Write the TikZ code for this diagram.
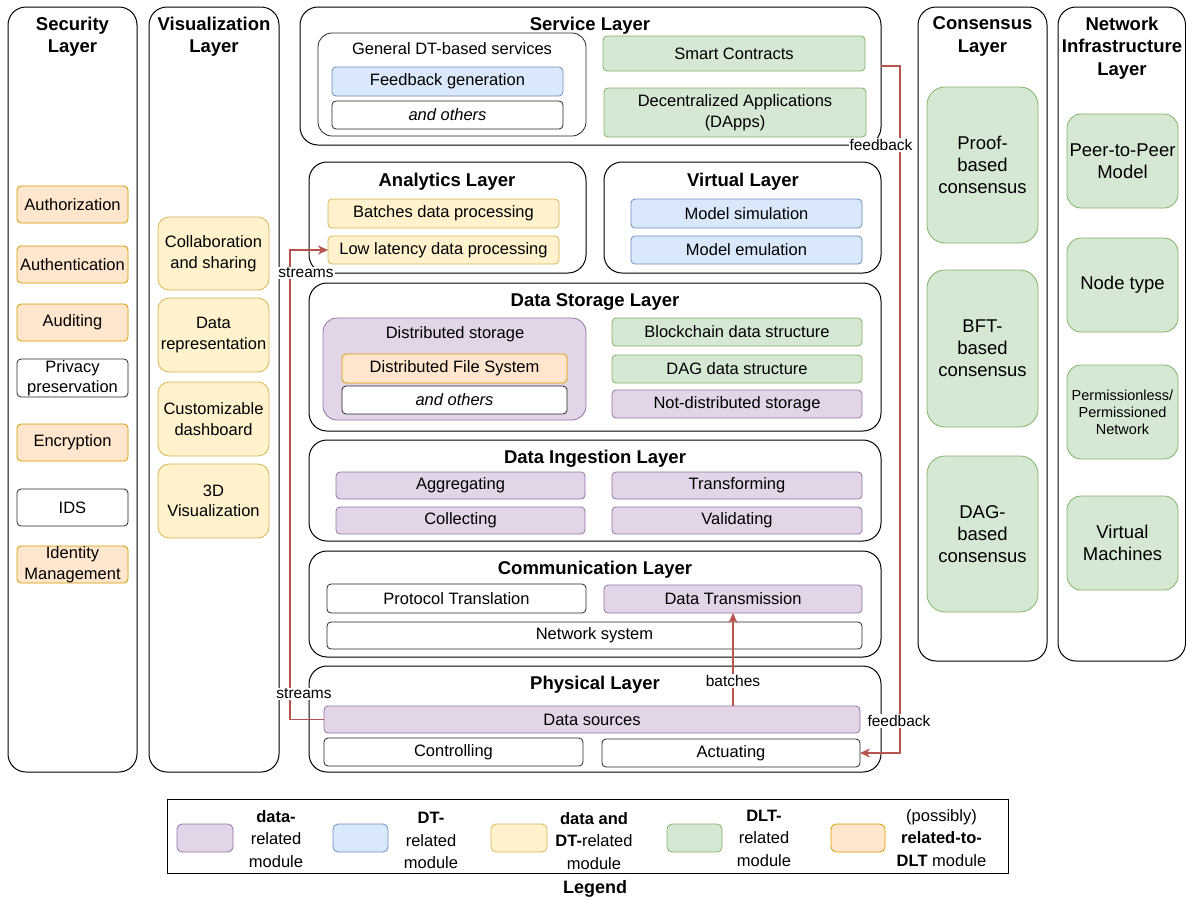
\documentclass[tikz,border=0pt]{standalone}
\usepackage{fontspec}
\setmainfont{Liberation Sans}
\usetikzlibrary{arrows.meta}
\definecolor{pFill}{HTML}{E1D5E7}\definecolor{pDraw}{HTML}{9673A6}
\definecolor{bFill}{HTML}{DAE8FC}\definecolor{bDraw}{HTML}{6C8EBF}
\definecolor{yFill}{HTML}{FFF2CC}\definecolor{yDraw}{HTML}{D6B656}
\definecolor{gFill}{HTML}{D5E8D4}\definecolor{gDraw}{HTML}{82B366}
\definecolor{oFill}{HTML}{FFE6CC}\definecolor{oDraw}{HTML}{D79B00}
\definecolor{arrRed}{HTML}{B85450}
\newcommand{\fsN}{\fontsize{16.5}{20.5}\selectfont}
\newcommand{\fsT}{\fontsize{18.5}{22.5}\selectfont\bfseries}
\newcommand{\fsB}{\fontsize{18.5}{22}\selectfont}
\newcommand{\bx}[7]{\node[#2, minimum width={#5-#3}, minimum height={#6-#4}] (#1) at ({(#3+#5)/2},{(#4+#6)/2}) {#7};}
\tikzset{
  base/.style={shape=rectangle, inner sep=0pt, outer sep=0pt, align=center, font=\fsN, text=black},
  layer/.style={base, draw=black, line width=1pt, rounded corners=18pt, fill=white},
  mod/.style={base, draw=black!85, line width=0.8pt, rounded corners=4pt, fill=white},
  pmod/.style={mod, fill=pFill, draw=pDraw},
  bmod/.style={mod, fill=bFill, draw=bDraw},
  ymod/.style={mod, fill=yFill, draw=yDraw},
  gmod/.style={mod, fill=gFill, draw=gDraw},
  omod/.style={mod, fill=oFill, draw=oDraw},
  title/.style={base, font=\fsT},
  lbl/.style={base, font=\fsN},
  legtxt/.style={base, font=\fontsize{16.5}{22.5}\selectfont},
  elbl/.style={base, fill=white, inner sep=1pt, font=\fontsize{15.5}{18}\selectfont},
  flow/.style={draw=arrRed, line width=1.5pt, -{Stealth[length=10pt,width=9pt]}},
}
\begin{document}
\begin{tikzpicture}[x=1pt,y=-1pt]
\useasboundingbox (0,0) rectangle (1186,900);
% ---- Security layer
\bx{sec}{layer}{8}{7}{137}{772}{}
\node[title] (secT) at (72.5,36.5) {Security\\Layer};
\bx{authz}{omod}{17}{186}{128}{223}{Authorization}
\bx{authn}{omod}{17}{246}{128}{283}{Authentication}
\bx{audit}{omod}{17}{304}{128}{341}{Auditing}
\bx{priv}{mod}{17}{359}{128}{397}{\fontsize{16.5}{20}\selectfont Privacy\\preservation}
\bx{encr}{omod}{17}{424}{128}{461}{Encryption}
\bx{ids}{mod}{17}{489}{128}{526}{IDS}
\bx{idm}{omod}{17}{546}{128}{583}{\fontsize{16.5}{20}\selectfont Identity\\Management}
% ---- Visualization layer
\bx{vis}{layer}{149}{7}{279}{772}{}
\node[title] (visT) at (214,36.5) {Visualization\\Layer};
\bx{collab}{ymod, rounded corners=11pt}{158}{217}{269}{290}{Collaboration\\and sharing}
\bx{drep}{ymod, rounded corners=11pt}{158}{298}{269}{372}{Data\\representation}
\bx{cdash}{ymod, rounded corners=11pt}{158}{382}{269}{456}{Customizable\\dashboard}
\bx{viz3d}{ymod, rounded corners=11pt}{158}{464}{269}{538}{3D\\Visualization}
% ---- Service layer
\bx{srv}{layer}{300}{7}{881}{145}{}
\node[title] (srvT) at (590,25.5) {Service Layer};
\bx{gdt}{mod, rounded corners=14pt}{318}{33}{586}{136}{}
\node[lbl] (gdtT) at (452,49) {General DT-based services};
\bx{fbg}{bmod}{332}{67}{563}{96}{Feedback generation}
\bx{oth1}{mod}{332}{101}{563}{129}{\itshape and others}
\bx{sc}{gmod}{603}{36}{865}{71}{Smart Contracts}
\bx{dapp}{gmod}{604}{88}{866}{137}{Decentralized Applications\\(DApps)}
% ---- Analytics layer
\bx{ana}{layer}{309}{162}{586}{273}{}
\node[title] (anaT) at (447,182) {Analytics Layer};
\bx{bdp}{ymod}{328}{199}{559}{228}{Batches data processing}
\bx{ldp}{ymod}{328}{236}{559}{264}{Low latency data processing}
% ---- Virtual layer
\bx{vir}{layer}{604}{162}{881}{273}{}
\node[title] (virT) at (743,182) {Virtual Layer};
\bx{msim}{bmod}{631}{199}{862}{228}{Model simulation}
\bx{memu}{bmod}{631}{236}{862}{264}{Model emulation}
% ---- Data storage layer
\bx{sto}{layer}{309}{283}{881}{431}{}
\node[title] (stoT) at (595,302) {Data Storage Layer};
\bx{dst}{pmod, rounded corners=14pt}{323}{318}{586}{420}{}
\node[lbl] (dstT) at (455,334) {Distributed storage};
\bx{dfs}{omod}{342}{354}{567}{383}{Distributed File System}
\bx{oth2}{mod}{342}{386}{567}{414}{\itshape and others}
\bx{bcd}{gmod}{612}{318}{862}{346}{Blockchain data structure}
\bx{dagd}{gmod}{612}{355}{862}{383}{DAG data structure}
\bx{nds}{pmod}{612}{390}{862}{418}{Not-distributed storage}
% ---- Data ingestion layer
\bx{ing}{layer}{309}{440}{881}{541}{}
\node[title] (ingT) at (595,459) {Data Ingestion Layer};
\bx{agg}{pmod}{336}{472}{585}{499}{Aggregating}
\bx{trf}{pmod}{612}{472}{862}{499}{Transforming}
\bx{col}{pmod}{336}{507}{585}{534}{Collecting}
\bx{val}{pmod}{612}{507}{862}{534}{Validating}
% ---- Communication layer
\bx{com}{layer}{309}{551}{881}{657}{}
\node[title] (comT) at (595,570) {Communication Layer};
\bx{ptr}{mod}{327}{584}{586}{613}{Protocol Translation}
\bx{dtr}{pmod}{604}{585}{862}{613}{Data Transmission}
\bx{nws}{mod}{327}{622}{862}{649}{Network system}
% ---- Physical layer
\bx{phy}{layer}{309}{666}{881}{772}{}
\node[title] (phyT) at (595,685) {Physical Layer};
\bx{dsrc}{pmod}{324}{706}{860}{733}{Data sources}
\bx{ctl}{mod}{324}{738}{583}{766}{Controlling}
\bx{act}{mod}{602}{739}{860}{767}{Actuating}
% ---- Consensus layer
\bx{cons}{layer}{918}{7}{1047}{661}{}
\node[title] (consT) at (982.5,36.5) {Consensus\\Layer};
\bx{pbc}{gmod, rounded corners=18pt, font=\fsB}{927}{87}{1038}{243}{Proof-\\based\\consensus}
\bx{bft}{gmod, rounded corners=18pt, font=\fsB}{927}{270}{1038}{427}{BFT-\\based\\consensus}
\bx{dagc}{gmod, rounded corners=18pt, font=\fsB}{927}{456}{1038}{612}{DAG-\\based\\consensus}
% ---- Network infrastructure layer
\bx{net}{layer}{1058}{7}{1185.5}{661}{}
\node[title] (netT) at (1122,48) {Network\\Infrastructure\\Layer};
\bx{p2p}{gmod, rounded corners=14pt, font=\fsB}{1067}{114}{1178}{208}{Peer-to-Peer\\Model}
\bx{ntype}{gmod, rounded corners=14pt, font=\fsB}{1067}{238}{1178}{332}{Node type}
\bx{perm}{gmod, rounded corners=14pt, font=\fontsize{14.5}{17}\selectfont}{1067}{365}{1178}{459}{Permissionless/\\Permissioned\\Network}
\bx{vm}{gmod, rounded corners=14pt, font=\fsB}{1067}{496}{1178}{590}{Virtual\\Machines}
% ---- Legend
\bx{leg}{base, draw=black, line width=1pt}{167}{799}{1008}{873}{}
\node[base, font=\fontsize{18}{21}\selectfont\bfseries] (legT) at (595,888.5) {Legend};
\bx{sw1}{pmod, rounded corners=5pt}{177}{824}{233}{852}{}
\bx{sw2}{bmod, rounded corners=5pt}{333}{824}{388}{852}{}
\bx{sw3}{ymod, rounded corners=5pt}{491}{824}{547}{852}{}
\bx{sw4}{gmod, rounded corners=5pt}{667}{824}{722}{852}{}
\bx{sw5}{omod, rounded corners=5pt}{831}{824}{885}{852}{}
\node[legtxt] (lt1) at (276,839) {\textbf{data-}\\related\\module};
\node[legtxt] (lt2) at (431,840.5) {\textbf{DT-}\\related\\module};
\node[legtxt] (lt3) at (594,841) {\textbf{data and}\\\textbf{DT-}related\\module};
\node[legtxt] (lt4) at (764,838) {\textbf{DLT-}\\related\\module};
\node[legtxt] (lt5) at (941.5,838) {(possibly)\\\textbf{related-to-}\\\textbf{DLT} module};
% ---- connectors
\coordinate (turnL) at (290,0);
\coordinate (turnR) at (900,0);
\coordinate (fbOut) at (881,66);
\draw[flow] (dsrc.west) -- (dsrc.west -| turnL) |- (ldp.west);
\draw[flow] (fbOut) -- (fbOut -| turnR) |- (act.east);
\draw[flow] (dtr.south |- dsrc.north) -- (dtr.south);
\node[elbl] (ls1) at (306,273) {streams};
\node[elbl] (ls2) at (304,694) {streams};
\node[elbl] (lf1) at (881,145) {feedback};
\node[elbl] (lf2) at (899,721) {feedback};
\node[elbl] (lb1) at (733,681) {batches};
\end{tikzpicture}
\end{document}
